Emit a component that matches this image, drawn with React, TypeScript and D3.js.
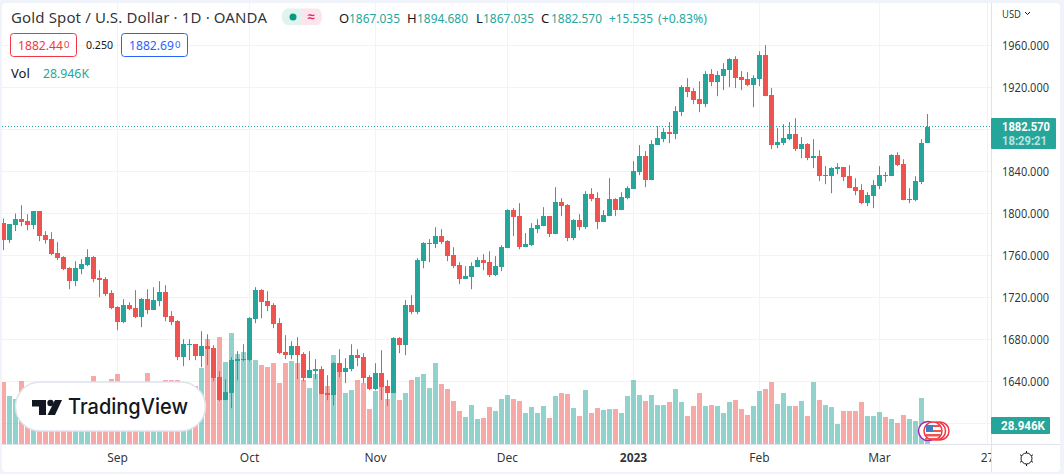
import React from 'react';
import * as d3 from 'd3';

const opens = [
  1790.8, 1774.6, 1788.9, 1794.6, 1792.7, 1788.9, 1802.2, 1779.4, 1775.6, 1762.2,
  1758.4, 1747.9, 1735.5, 1747, 1750.8, 1758.4, 1738.4, 1737.5, 1724.1, 1710.8,
  1696.5, 1712.7, 1709.8, 1701.3, 1718.4, 1707.9, 1716.5, 1725.1, 1702.2, 1697.4,
  1663.2, 1674.6, 1675.5, 1664.1, 1673.6, 1671.7, 1644.1, 1622.2, 1628.9, 1659.4,
  1660.3, 1660.3, 1699.4, 1727, 1716.5, 1712.7, 1695.5, 1667.9, 1665, 1673.6,
  1666, 1643.2, 1649.8, 1651.7, 1628.9, 1627, 1657.4, 1648.9, 1651.7, 1665,
  1663.2, 1644.1, 1632.7, 1647.9, 1635.5, 1628.9, 1681.3, 1674.6, 1712.7, 1706,
  1754.6, 1770.8, 1770.8, 1778.4, 1773.6, 1760.3, 1750.8, 1737.5, 1739.4, 1748.9,
  1755.6, 1753.6, 1741.3, 1748.9, 1767, 1803.2, 1797.5, 1767.9, 1769.8, 1785.1,
  1787.9, 1797.5, 1780.3, 1810.8, 1807.9, 1776.5, 1793.7, 1787, 1818.4, 1814.6,
  1791.7, 1797.5, 1813.7, 1803.2, 1814.6, 1823.2, 1839.3, 1854.6, 1831.7, 1865.1,
  1870.8, 1877.4, 1875.5, 1896.5, 1920.3, 1916.5, 1908.9, 1904.1, 1932.7, 1925.1,
  1930.8, 1936.5, 1947, 1929.8, 1927.9, 1922.2, 1927.9, 1950.8, 1912.7, 1865.1,
  1867, 1870.8, 1875.5, 1861.3, 1866, 1852.7, 1854.6, 1835.5, 1835.5, 1842.2,
  1844.1, 1835.5, 1825.1, 1822.2, 1809.8, 1816.5, 1826, 1836.5, 1835.5, 1855.5,
  1847, 1812.7, 1812.7, 1829.8, 1867.035,
];

const closes = [
  1774.6, 1789.8, 1794.6, 1791.7, 1788.9, 1802.2, 1778.4, 1774.6, 1761.3, 1757.5,
  1747, 1735.5, 1747.9, 1751.7, 1758.4, 1737.5, 1736.5, 1723.2, 1709.8, 1696.5,
  1712.7, 1708.9, 1701.3, 1718.4, 1707.9, 1717.5, 1725.1, 1701.3, 1696.5, 1663.2,
  1675.5, 1675.5, 1664.1, 1673.6, 1670.8, 1643.2, 1622.2, 1629.8, 1660.3, 1661.3,
  1661.3, 1700.3, 1727, 1715.5, 1711.7, 1694.6, 1667, 1665, 1673.6, 1665,
  1643.2, 1650.8, 1651.7, 1627.9, 1627, 1657.4, 1648.9, 1652.7, 1665, 1662.2,
  1643.2, 1632.7, 1647.9, 1634.6, 1628.9, 1681.3, 1674.6, 1712.7, 1706, 1755.6,
  1771.7, 1771.7, 1778.4, 1772.7, 1759.4, 1749.8, 1737.5, 1740.3, 1749.8, 1755.6,
  1752.7, 1741.3, 1749.8, 1767.9, 1803.2, 1796.5, 1767.9, 1770.8, 1786, 1788.9,
  1797.5, 1780.3, 1810.8, 1807, 1776.5, 1793.7, 1787, 1818.4, 1813.7, 1791.7,
  1798.4, 1813.7, 1803.2, 1815.6, 1824.1, 1840.3, 1854.6, 1831.7, 1866, 1871.7,
  1877.4, 1875.5, 1897.5, 1920.3, 1915.6, 1907.9, 1904.1, 1932.7, 1925.1, 1931.7,
  1937.5, 1947, 1928.9, 1927, 1922.2, 1928.9, 1950.8, 1911.7, 1865.1, 1867.9,
  1871.7, 1875.5, 1861.3, 1866, 1852.7, 1854.6, 1835.5, 1836.5, 1843.2, 1844.1,
  1834.6, 1824.1, 1821.3, 1809.8, 1817.4, 1827, 1836.5, 1835.5, 1855.5, 1846,
  1812.7, 1813.6, 1830.8, 1867, 1882.57,
];

const highs = [
  1795.2, 1789.8, 1800, 1807.9, 1799.4, 1802.2, 1802.2, 1783.2, 1782.2, 1772.7,
  1759.4, 1748.9, 1754.6, 1756.5, 1766, 1759.4, 1746, 1739.4, 1727, 1711.7,
  1718.4, 1715.5, 1727, 1719.4, 1727.9, 1729.8, 1735.5, 1731.7, 1707, 1698.4,
  1680.3, 1680.3, 1675.5, 1687.9, 1685, 1674.6, 1649.8, 1642.2, 1663.2, 1668.9,
  1675.5, 1701.3, 1729.8, 1727.9, 1726, 1714.6, 1700.3, 1684.1, 1678.4, 1682.2,
  1667.9, 1668.9, 1661.3, 1654.6, 1646, 1658.4, 1670.8, 1662.2, 1675.5, 1670.8,
  1667, 1646, 1657.4, 1669.8, 1641.3, 1682.2, 1682.2, 1717.5, 1722.2, 1757.5,
  1772.7, 1775.6, 1787, 1785.1, 1774.6, 1767.9, 1753.6, 1749.8, 1753.6, 1758.4,
  1761.3, 1764.1, 1759.4, 1769.8, 1804.1, 1805.1, 1809.8, 1781.3, 1790.8, 1794.6,
  1806, 1797.5, 1825.1, 1814.6, 1808.9, 1794.6, 1799.4, 1821.3, 1824.1, 1820.3,
  1803.2, 1833.7, 1814.6, 1820.3, 1826, 1849.8, 1865.1, 1859.4, 1869.8, 1883.2,
  1881.3, 1887, 1902.2, 1922.2, 1928.9, 1919.4, 1926, 1935.6, 1937.5, 1935.6,
  1943.2, 1947.9, 1949.8, 1935.6, 1934.6, 1931.7, 1954.6, 1960.3, 1919.4, 1881.3,
  1885.1, 1887, 1890.8, 1872.7, 1867, 1870.8, 1860.3, 1845.1, 1844.1, 1847.9,
  1844.1, 1846, 1833.6, 1827.9, 1820.3, 1831.7, 1845.1, 1839.4, 1856.5, 1858.4,
  1851.7, 1824.1, 1835.5, 1870.8, 1894.68,
];

const lows = [
  1765.1, 1772.1, 1783.2, 1787.9, 1784.1, 1785.1, 1773.6, 1771.4, 1760.3, 1755.6,
  1746, 1727.9, 1730.8, 1742.2, 1749.8, 1734.6, 1720.3, 1721.3, 1708.9, 1688.9,
  1695.5, 1707.9, 1700.3, 1691.7, 1704.1, 1707.9, 1711.7, 1697.4, 1693.6, 1660.3,
  1654.6, 1660.3, 1660.3, 1653.6, 1655.5, 1640.3, 1621.3, 1622.2, 1614.6, 1641.3,
  1659.4, 1659.4, 1695.5, 1700.3, 1707, 1690.8, 1666, 1661.3, 1661.3, 1642.2,
  1640.3, 1643.2, 1642.2, 1627.9, 1622.2, 1617.4, 1644.1, 1638.4, 1649.8, 1654.6,
  1638.4, 1631.7, 1631.7, 1622.2, 1616.5, 1628.9, 1667, 1665, 1704.1, 1704.1,
  1747.9, 1753.6, 1767, 1770.8, 1754.6, 1747.9, 1732.7, 1737.5, 1727.9, 1748.9,
  1746, 1739.4, 1740.3, 1745.1, 1767, 1778.4, 1766, 1767.9, 1768.9, 1781.3,
  1787.9, 1777.5, 1780.3, 1797.5, 1773.6, 1774.6, 1784.1, 1785.1, 1811.7, 1785.1,
  1791.7, 1797.5, 1797.5, 1803.2, 1813.6, 1823.2, 1836.5, 1825.1, 1831.7, 1865.1,
  1867.9, 1867, 1870.8, 1892.7, 1910.8, 1904.1, 1896.5, 1901.3, 1921.3, 1911.7,
  1917.5, 1920.3, 1919.4, 1917.5, 1921.3, 1901.3, 1921.3, 1911.7, 1861.3, 1862.2,
  1865.1, 1869.8, 1859.4, 1852.7, 1850.8, 1843.2, 1830.8, 1827.9, 1819.3, 1837.4,
  1830.8, 1824.1, 1817.4, 1808.9, 1807, 1805.1, 1823.2, 1829.9, 1835.5, 1845.1,
  1812.7, 1809.8, 1811.7, 1827.9, 1867.035,
];

// thousands
const volumes = [
  89.7, 69.5, 65.1, 91.2, 82.5, 63.7, 75.2, 72.4, 69.5, 72.4,
  79.6, 75.2, 66.6, 63.7, 69.5, 98.4, 79.6, 72.4, 94.1, 101.3,
  75.2, 72.4, 79.6, 63.7, 102.7, 69.5, 79.6, 92.6, 92.6, 92.6,
  81, 72.4, 83.9, 110, 151.9, 138.9, 154.8, 118.7, 160.6, 130.2,
  133.1, 121.5, 121.5, 114.3, 111.4, 117.2, 88.3, 117.2, 120.1, 117.2,
  92.6, 81, 101.3, 72.4, 83.9, 128.8, 104.2, 73.8, 78.1, 92.6,
  88.3, 50.6, 76.7, 82.5, 65.1, 73.8, 63.7, 73.8, 92.6, 97,
  101.3, 81, 117.2, 86.8, 79.6, 62.2, 47.8, 39.1, 56.4, 36.2,
  37.6, 53.5, 47.8, 65.1, 70.9, 65.1, 62.2, 44.9, 53.5, 44.9,
  55, 37.6, 69.5, 73.8, 72.4, 52.1, 40.5, 78.1, 44.9, 52.1,
  49.2, 50.6, 50.6, 44.9, 69.5, 92.6, 70.9, 62.2, 70.9, 56.4,
  56.4, 60.8, 79.6, 60.8, 40.5, 55, 73.8, 55, 56.4, 55,
  44.9, 60.8, 63.7, 50.6, 42, 55, 76.7, 79.6, 89.7, 57.9,
  73.8, 55, 55, 62.2, 40.5, 89.7, 63.7, 56.4, 53.5, 28.9,
  47.8, 47.8, 47.8, 60.8, 40.5, 40.5, 46.3, 39.1, 36.2, 30.4,
  42, 36.2, 33.3, 66.6, 28.946,
];

const priceTicks = [1960, 1920, 1880, 1840, 1800, 1760, 1720, 1680, 1640, 1600];
const labelledPriceTicks = [1960, 1920, 1840, 1800, 1760, 1720, 1680, 1640];
const timeTickLabels = ['Sep', 'Oct', 'Nov', 'Dec', '2023', 'Feb', 'Mar', '27'];
const timeTickBars = [19, 41, 62, 84, 105, 126, 146, 164];
const legendOhlc = [
  ['O', '1867.035', 339, 349],
  ['H', '1894.680', 407, 417],
  ['L', '1867.035', 476, 483],
  ['C', '1882.570', 541, 551],
] as const;

const UP = '#26a69a';
const DOWN = '#ef5350';
const TEXT = '#131722';
const GRID = '#f0f3fa';
const EDGE = '#e0e3eb';
const FONT = '"Noto Sans", sans-serif';

const x = d3.scaleLinear().domain([0, 154]).range([3.5, 927.5]);
const y = d3.scaleLinear().domain([1640, 1960]).range([381.5, 45.5]);
const yVol = d3.scaleLinear().domain([0, 28.946]).range([444, 424]);

const candles = d3.range(opens.length).map((i) => ({
  i,
  open: opens[i],
  close: closes[i],
  high: highs[i],
  low: lows[i],
  volume: volumes[i],
  up: closes[i] >= opens[i],
}));

const Candles = () => (
  <g>
    {candles.map((d) => {
      const top = Math.round(y(Math.max(d.open, d.close)));
      const bottom = Math.round(y(Math.min(d.open, d.close)));
      return (
        <g key={d.i} fill={d.up ? UP : DOWN}>
          <rect x={x(d.i) - 0.5} y={y(d.high)} width={1} height={y(d.low) - y(d.high)} />
          <rect x={x(d.i) - 2.5} y={top} width={5} height={Math.max(bottom - top, 1)} />
        </g>
      );
    })}
  </g>
);

const VolumeBars = () => (
  <g>
    {candles.map((d) => (
      <rect
        key={d.i}
        x={x(d.i) - 2.5}
        y={yVol(d.volume)}
        width={5}
        height={yVol(0) - yVol(d.volume)}
        fill={d.up ? UP : DOWN}
        opacity={0.5}
      />
    ))}
  </g>
);

const Logo = () => (
  <g>
    <rect x={15.5} y={382} width={190} height={49} rx={24.5} fill="#fff" stroke={EDGE} strokeWidth={1.5} />
    <path d="M32 400H46V415H39V406.5H32Z" fill={TEXT} />
    <circle cx={50.5} cy={403} r={3.2} fill={TEXT} />
    <path d="M55 400H62L55 415H47.5Z" fill={TEXT} />
    <text x={68} y={414} fontFamily="Inter, sans-serif" fontSize={21} fontWeight={500} fill={TEXT} textLength={120} lengthAdjust="spacingAndGlyphs">
      TradingView
    </text>
  </g>
);

const Flag = () => (
  <g>
    <circle cx={928} cy={431} r={9.5} fill="#fff" stroke="#9c27b0" strokeWidth={1.5} />
    <circle cx={940} cy={431} r={9} fill="#fff" stroke="#f23645" strokeWidth={1.5} />
    <circle cx={936.5} cy={431} r={9} fill="#fff" stroke="#f23645" strokeWidth={1.5} />
    <circle cx={933} cy={431} r={9} fill="#fff" stroke="#f23645" strokeWidth={1.5} />
    <rect x={926} y={434} width={14} height={2.5} fill="#ef5350" />
    <rect x={925} y={438} width={14} height={1.5} fill="#ef5350" />
    <rect x={932} y={425} width={8} height={2} fill="#ef5350" />
    <rect x={932} y={430} width={9} height={2} fill="#ef5350" />
    <rect x={926} y={425} width={7} height={7} fill="#3d7fc4" />
  </g>
);

const Gear = () => (
  <g stroke={TEXT} strokeWidth={1} fill="none">
    <circle cx={1026.5} cy={458.5} r={5.5} />
    {d3.range(6).map((k) => {
      const a = (k * Math.PI) / 3 + Math.PI / 2;
      return (
        <line
          key={k}
          x1={1026.5 + 5.5 * Math.cos(a)}
          y1={458.5 + 5.5 * Math.sin(a)}
          x2={1026.5 + 7.5 * Math.cos(a)}
          y2={458.5 + 7.5 * Math.sin(a)}
        />
      );
    })}
  </g>
);

const Legend = () => (
  <g fontFamily={FONT}>
    <text x={11} y={23} fontSize={15} fill={TEXT} fillOpacity={0.9} textLength={256} lengthAdjust="spacing">
      Gold Spot / U.S. Dollar · 1D · OANDA
    </text>
    <path d="M287 8.5H302V25H287A8 8 0 0 1 282 17A8 8 0 0 1 287 8.5Z" fill="#e0f3ef" />
    <path d="M302 8.5H317A5 8 0 0 1 322 17A5 8 0 0 1 317 25H302Z" fill="#fce4ec" />
    <circle cx={293} cy={17} r={3.5} fill="#089981" />
    <text x={311} y={21} fontSize={13} textAnchor="middle" fontWeight={700} fill="#e91e63">≈</text>
    {legendOhlc.map(([k, v, kx, vx]) => (
      <g key={k} fontSize={13}>
        <text x={kx} y={23} fill={TEXT}>{k}</text>
        <text x={vx} y={23} fill={UP} textLength={51} lengthAdjust="spacingAndGlyphs">{v}</text>
      </g>
    ))}
    <text x={609} y={23} fontSize={13} fill={UP} textLength={44} lengthAdjust="spacingAndGlyphs">+15.535</text>
    <text x={658} y={23} fontSize={13} fill={UP} textLength={49} lengthAdjust="spacingAndGlyphs">(+0.83%)</text>

    <rect x={10.5} y={33.5} width={66} height={23} rx={3} fill="#fff" stroke="#f23645" />
    <text x={18} y={50} fontSize={12.5} fill="#f23645" textLength={45} lengthAdjust="spacingAndGlyphs">1882.44</text>
    <text x={64} y={48} fontSize={9.5} fill="#f23645">0</text>
    <text x={86} y={49} fontSize={11} fill={TEXT} textLength={27} lengthAdjust="spacingAndGlyphs">0.250</text>
    <rect x={121.5} y={33.5} width={66} height={23} rx={3} fill="#fff" stroke="#2962ff" />
    <text x={129} y={50} fontSize={12.5} fill="#2962ff" textLength={45} lengthAdjust="spacingAndGlyphs">1882.69</text>
    <text x={175} y={48} fontSize={9.5} fill="#2962ff">0</text>

    <text x={11} y={78} fontSize={13} fill={TEXT}>Vol</text>
    <text x={43} y={78} fontSize={13} fill={UP} textLength={46} lengthAdjust="spacingAndGlyphs">28.946K</text>
  </g>
);

const App = () => (
  <svg width={1064} height={474} style={{ position: 'absolute', left: 0, top: 0 }}>
    <defs>
      <clipPath id="pane">
        <rect x={2} y={3} width={989} height={441} />
      </clipPath>
      <clipPath id="timeAxis">
        <rect x={2} y={445} width={989} height={27} />
      </clipPath>
    </defs>

    <rect width={1064} height={474} fill="#f0f3fa" />
    <rect x={2} y={3} width={1058} height={469} rx={4} fill="#fff" />

    <g clipPath="url(#pane)">
      {priceTicks.map((p) => (
        <line key={p} x1={2} x2={991} y1={y(p)} y2={y(p)} stroke={GRID} />
      ))}
      {timeTickBars.map((b) => (
        <line key={b} x1={x(b)} x2={x(b)} y1={3} y2={444} stroke={GRID} />
      ))}
      <VolumeBars />
      <Candles />
      <line x1={2} x2={991} y1={126.5} y2={126.5} stroke={UP} strokeDasharray="1 2" />
      <Flag />
      <Logo />
    </g>

    <Legend />

    <line x1={2} x2={1060} y1={444.5} y2={444.5} stroke={EDGE} />
    <line x1={991.5} x2={991.5} y1={3} y2={472} stroke={EDGE} />

    <g fontFamily={FONT} fontSize={12} fill={TEXT} fillOpacity={0.9}>
      {labelledPriceTicks.map((p) => (
        <text key={p} x={1002} y={y(p) + 4.5} textLength={47} lengthAdjust="spacingAndGlyphs">{d3.format('.3f')(p)}</text>
      ))}
      <text x={1002} y={18} fontSize={11.5} textLength={19} lengthAdjust="spacingAndGlyphs">USD</text>
      <path d="M1025 12l2.5 2.5 2.5-2.5" fill="none" stroke={TEXT} />
      <g clipPath="url(#timeAxis)" textAnchor="middle">
        {timeTickLabels.map((t, k) => (
          <text key={t} x={x(timeTickBars[k])} y={462} fontWeight={t === '2023' ? 700 : 400}>{t}</text>
        ))}
      </g>
    </g>

    <g fontFamily="Roboto, sans-serif" fontSize={12} fontWeight={700}>
      <rect x={991} y={118} width={65} height={31} rx={1} fill={UP} />
      <text x={1002} y={131} fill="#fff" textLength={48} lengthAdjust="spacingAndGlyphs">1882.570</text>
      <text x={1002} y={145} fill="#fff" fillOpacity={0.7} textLength={45} lengthAdjust="spacingAndGlyphs">18:29:21</text>
      <rect x={991} y={417} width={59} height={17} rx={1} fill={UP} />
      <text x={1001} y={430} fill="#fff" textLength={44} lengthAdjust="spacingAndGlyphs">28.946K</text>
    </g>

    <Gear />
  </svg>
);

export default App;
